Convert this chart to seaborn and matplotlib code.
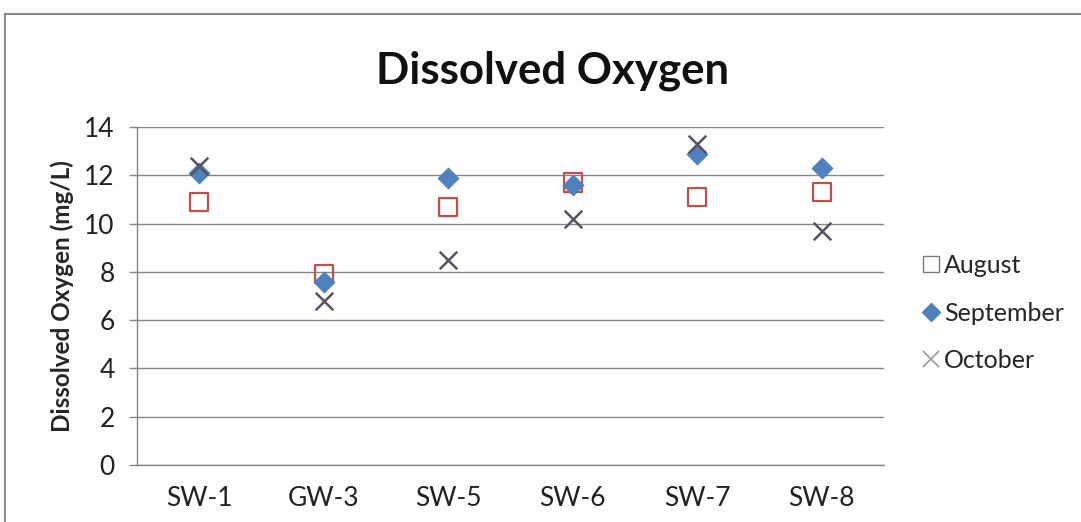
import matplotlib
matplotlib.use("Agg")
import matplotlib.pyplot as plt
from matplotlib.patches import Rectangle
from matplotlib.lines import Line2D
from matplotlib.ticker import FixedLocator, MultipleLocator
import pandas as pd
import seaborn as sns

# Sampling sites and dissolved oxygen readings (mg/L)
sites = ["SW-1", "GW-3", "SW-5", "SW-6", "SW-7", "SW-8"]
august = [10.9, 7.9, 10.7, 11.7, 11.1, 11.3]
september = [12.1, 7.6, 11.9, 11.6, 12.9, 12.3]
october = [12.4, 6.8, 8.5, 10.2, 13.3, 9.7]
months = ["August", "September", "October"]

sns.set_theme(style="white")
plt.rcParams["font.family"] = ["Lato", "DejaVu Sans"]

fig = plt.figure(figsize=(10.81, 5.22), dpi=100)
ax = fig.add_axes([0.1267, 0.1092, 0.691, 0.6475])

# Chart-area frame
fig.patches.append(Rectangle((5 / 1081, -0.05), 1.1, 1 - 14 / 522 + 0.05,
                             transform=fig.transFigure, fill=False,
                             edgecolor="#8c8c8c", linewidth=1.5))

series = {"August": august, "September": september, "October": october}
styles = {
    "August": dict(marker="s", s=170, color="#C0504D", linewidth=1.6, hollow=True),
    "September": dict(marker="D", s=110, color="#4F81BD", linewidth=0.8, hollow=False),
    "October": dict(marker="x", s=160, color="#545466", linewidth=1.8, hollow=False),
}

for name in months:
    df = pd.DataFrame({"site": sites, "value": series[name]})
    st = styles[name]
    sns.scatterplot(data=df, x="site", y="value", ax=ax, marker=st["marker"],
                    s=st["s"], color=st["color"], edgecolor=st["color"],
                    linewidth=st["linewidth"], zorder=3, legend=False)
    if st["hollow"]:
        pts = ax.collections[-1]
        pts.set_facecolor("none")
        pts.set_edgecolor(st["color"])

ax.set_xlim(-0.5, len(sites) - 0.5)
ax.set_ylim(0, 14)
ax.yaxis.set_major_locator(MultipleLocator(2))
ax.grid(axis="y", color="#868686", linewidth=1.0)
ax.set_axisbelow(True)

for side in ["top", "right"]:
    ax.spines[side].set_visible(False)
ax.spines["left"].set_color("#868686")
ax.spines["bottom"].set_color("#868686")
ax.spines["left"].set_linewidth(1.0)
ax.spines["bottom"].set_linewidth(1.0)

ax.xaxis.set_minor_locator(FixedLocator([i - 0.5 for i in range(len(sites) + 1)]))
ax.tick_params(axis="x", which="major", length=0, pad=15, labelsize=19, labelcolor="#222222")
ax.tick_params(axis="x", which="minor", length=6, color="#868686", width=1.0, direction="out")
ax.tick_params(axis="y", which="major", length=6, color="#868686", width=1.0,
               direction="out", left=True, labelsize=19, labelcolor="#222222", pad=10)

ax.set_xlabel("")
ax.set_ylabel("Dissolved Oxygen (mg/L)", fontsize=17.5, fontweight="bold", va="center")
ax.yaxis.set_label_coords(-0.1004, 0.5)

fig.text(0.511, 0.865, "Dissolved Oxygen", ha="center", va="center",
         fontsize=31.5, fontweight="bold", color="#111111")

handles = [
    Line2D([], [], linestyle="none", marker="s", markersize=12, markerfacecolor="none",
           markeredgecolor="#7a7a7a", markeredgewidth=1.0),
    Line2D([], [], linestyle="none", marker="D", markersize=9, markerfacecolor="#4F81BD",
           markeredgecolor="#4F81BD"),
    Line2D([], [], linestyle="none", marker="x", markersize=11, markeredgecolor="#9a9a9a",
           markeredgewidth=1.2),
]
fig.legend(handles, months, loc="center left", bbox_to_anchor=(0.851, 0.40),
           frameon=False, fontsize=18, labelspacing=0.98, handletextpad=0.05,
           handlelength=0.9, borderaxespad=0, borderpad=0)

fig.savefig("out.png", dpi=100)
